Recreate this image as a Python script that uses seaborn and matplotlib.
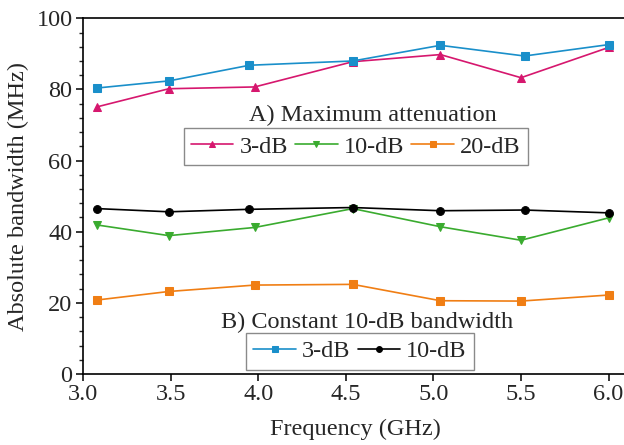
import matplotlib
matplotlib.use("Agg")
import matplotlib.pyplot as plt
from matplotlib.ticker import MultipleLocator
import seaborn as sns

# Case A: maximum attenuation
freq_a = [3.08, 3.49, 3.98, 4.54, 5.04, 5.50, 6.00]
bw_a_3db = [75.1, 80.2, 80.7, 87.8, 89.8, 83.3, 91.8]
bw_a_10db = [41.9, 38.9, 41.2, 46.5, 41.4, 37.6, 43.9]
bw_a_20db = [20.8, 23.2, 25.0, 25.2, 20.6, 20.5, 22.2]

# Case B: constant 10-dB bandwidth
freq_b = [3.08, 3.49, 3.95, 4.54, 5.04, 5.52, 6.00]
bw_b_3db = [80.4, 82.4, 86.8, 88.0, 92.4, 89.4, 92.6]
bw_b_10db = [46.5, 45.6, 46.3, 46.8, 45.9, 46.1, 45.3]

labels_a = ["3-dB", "10-dB", "20-dB"]
labels_b = ["3-dB", "10-dB"]

sns.set_style("ticks")
plt.rcParams["font.family"] = ["Liberation Serif", "DejaVu Serif"]
FS = 17.5

fig = plt.figure(figsize=(6.24, 4.45), dpi=100)
ax_w_px = 545.0
ax_h_px = 374 - 18.3
ax = fig.add_axes([83 / 624, 71 / 445, ax_w_px / 624, ax_h_px / 445])

line_kw = dict(linewidth=1.2, legend=False, ax=ax)

series_a = [
    (bw_a_3db, "#d6176e", "^", 6.3),
    (bw_a_10db, "#3aab2f", "v", 6.3),
    (bw_a_20db, "#f07e14", "s", 5.3),
]
series_b = [
    (bw_b_3db, "#1a8fca", "s", 5.3),
    (bw_b_10db, "#000000", "o", 5.6),
]

handles_a = []
for vals, col, mk, ms in series_a:
    sns.lineplot(x=freq_a, y=vals, color=col, marker=mk, markersize=ms,
                 mec=col, mfc=col, **line_kw)
    handles_a.append(ax.get_lines()[-1])

handles_b = []
for vals, col, mk, ms in series_b:
    sns.lineplot(x=freq_b, y=vals, color=col, marker=mk, markersize=ms,
                 mec=col, mfc=col, **line_kw)
    handles_b.append(ax.get_lines()[-1])

ax.set_xlim(3.0, 3.0 + ax_w_px / 175.2)
ax.set_ylim(0, 100)
ax.xaxis.set_major_locator(MultipleLocator(0.5))
ax.yaxis.set_major_locator(MultipleLocator(20))
ax.yaxis.set_minor_locator(MultipleLocator(4))
ax.tick_params(axis="both", which="major", direction="out", length=5, width=1.1,
               labelsize=FS, color="black")
ax.tick_params(axis="x", which="major", pad=2.5)
ax.tick_params(axis="y", which="major", pad=2.5)
ax.tick_params(axis="y", which="minor", direction="out", length=3, width=1.0)
ax.spines["right"].set_visible(False)
for side in ("left", "bottom", "top"):
    ax.spines[side].set_color("black")
    ax.spines[side].set_linewidth(1.2)

ax.set_xlabel("Frequency (GHz)", fontsize=FS, labelpad=10)
ax.set_ylabel("Absolute bandwidth (MHz)", fontsize=FS, labelpad=5)

leg_kw = dict(loc="upper left", frameon=True, fancybox=False, framealpha=1,
              edgecolor="#8a8a8a", fontsize=FS, borderpad=0.3, handlelength=1.75,
              handletextpad=0.25, columnspacing=0.3, borderaxespad=0,
              markerscale=0.75)

leg_a = ax.legend(handles_a, labels_a, ncol=3,
                  bbox_to_anchor=((183.5 - 83) / ax_w_px, (374 - 128.3) / ax_h_px),
                  **leg_kw)
leg_a.get_frame().set_linewidth(1.0)
ax.add_artist(leg_a)
leg_b = ax.legend(handles_b, labels_b, ncol=2,
                  bbox_to_anchor=((246 - 83) / ax_w_px, (374 - 333) / ax_h_px),
                  **leg_kw)
leg_b.get_frame().set_linewidth(1.0)

ax.text(4.654, 72.6, "A) Maximum attenuation", fontsize=FS, ha="center", va="center")
ax.text(4.619, 14.4, "B) Constant 10-dB bandwidth", fontsize=FS, ha="center", va="center")

fig.savefig("out.png", dpi=100)
